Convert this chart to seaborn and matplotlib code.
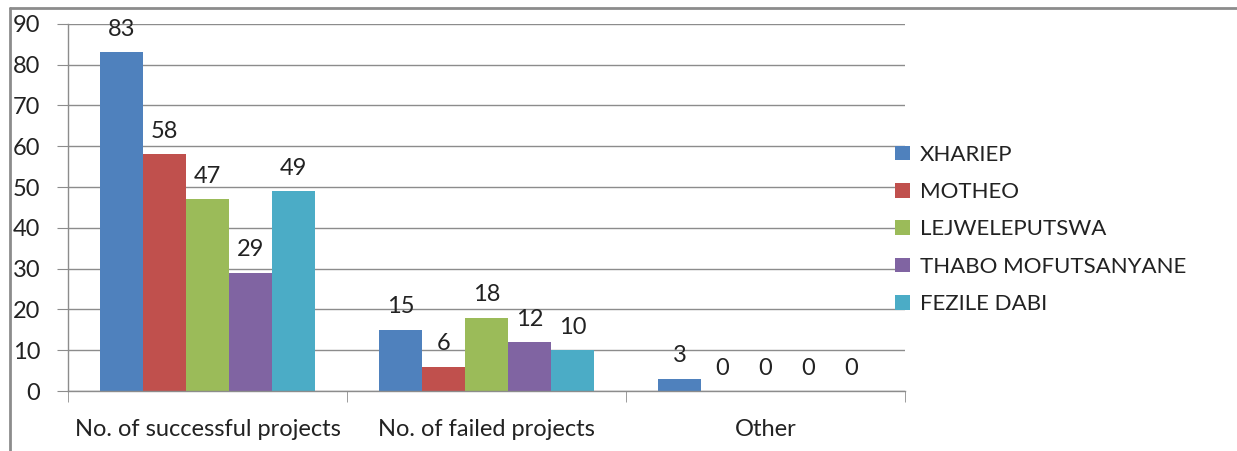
import pandas as pd
import matplotlib.pyplot as plt
import seaborn as sns
from matplotlib.lines import Line2D

# Chart data
categories = ['No. of successful projects', 'No. of failed projects', 'Other']
districts = ['XHARIEP', 'MOTHEO', 'LEJWELEPUTSWA', 'THABO MOFUTSANYANE', 'FEZILE DABI']
xhariep = [83, 15, 3]
motheo = [58, 6, 0]
lejweleputswa = [47, 18, 0]
thabo = [29, 12, 0]
fezile = [49, 10, 0]
colors = ['#4F81BD', '#C0504D', '#9BBB59', '#8064A2', '#4BACC6']

series = [xhariep, motheo, lejweleputswa, thabo, fezile]
rows = []
for name, vals in zip(districts, series):
    for cat, v in zip(categories, vals):
        rows.append({'Category': cat, 'District': name, 'Value': v})
df = pd.DataFrame(rows)

sns.set_style('white')
plt.rcParams['font.family'] = ['Lato', 'DejaVu Sans']

fig = plt.figure(figsize=(12.37, 4.51), dpi=100)
ax = fig.add_axes([0.055, 0.133, 0.6766, 0.814])

sns.barplot(data=df, x='Category', y='Value', hue='District', order=categories,
            hue_order=districts, palette=colors, width=0.77, gap=0,
            saturation=1, errorbar=None, linewidth=0, ax=ax)

# data labels
for cont in ax.containers:
    ax.bar_label(cont, padding=9, fontsize=17, color='#222222')

ax.set_ylim(0, 90)
ax.set_xlim(-0.5, 2.5)
ax.set_yticks(range(0, 91, 10))
ax.yaxis.grid(True, color='#8c8c8c', linewidth=1)
ax.set_axisbelow(True)
ax.set_xlabel('')
ax.set_ylabel('')

for s in ['top', 'right']:
    ax.spines[s].set_visible(False)
for s in ['left', 'bottom']:
    ax.spines[s].set_color('#8c8c8c')
    ax.spines[s].set_linewidth(1)

ax.tick_params(axis='y', direction='out', length=8, color='#8c8c8c', labelsize=17,
               labelcolor='#222222', pad=12, left=True)
ax.tick_params(axis='x', which='major', length=0, pad=20, labelsize=17, labelcolor='#222222')
ax.set_xticks([-0.5, 0.5, 1.5, 2.5], minor=True)
ax.tick_params(axis='x', which='minor', direction='out', length=8, color='#8c8c8c', bottom=True)

leg = ax.legend(loc='center left', bbox_to_anchor=(0.978, 0.44), frameon=False,
                fontsize=16, handlelength=0.65, handleheight=0.65, handletextpad=0.45,
                labelspacing=0.78, borderaxespad=0)
for t in leg.get_texts():
    t.set_color('#222222')

# chart border
fig.add_artist(Line2D([10 / 1237, 1.0], [1 - 8 / 451, 1 - 8 / 451],
                      color='#8c8c8c', linewidth=2, transform=fig.transFigure))
fig.add_artist(Line2D([10 / 1237, 10 / 1237], [0.0, 1 - 8 / 451],
                      color='#8c8c8c', linewidth=2, transform=fig.transFigure))

fig.savefig('out.png', dpi=100)
